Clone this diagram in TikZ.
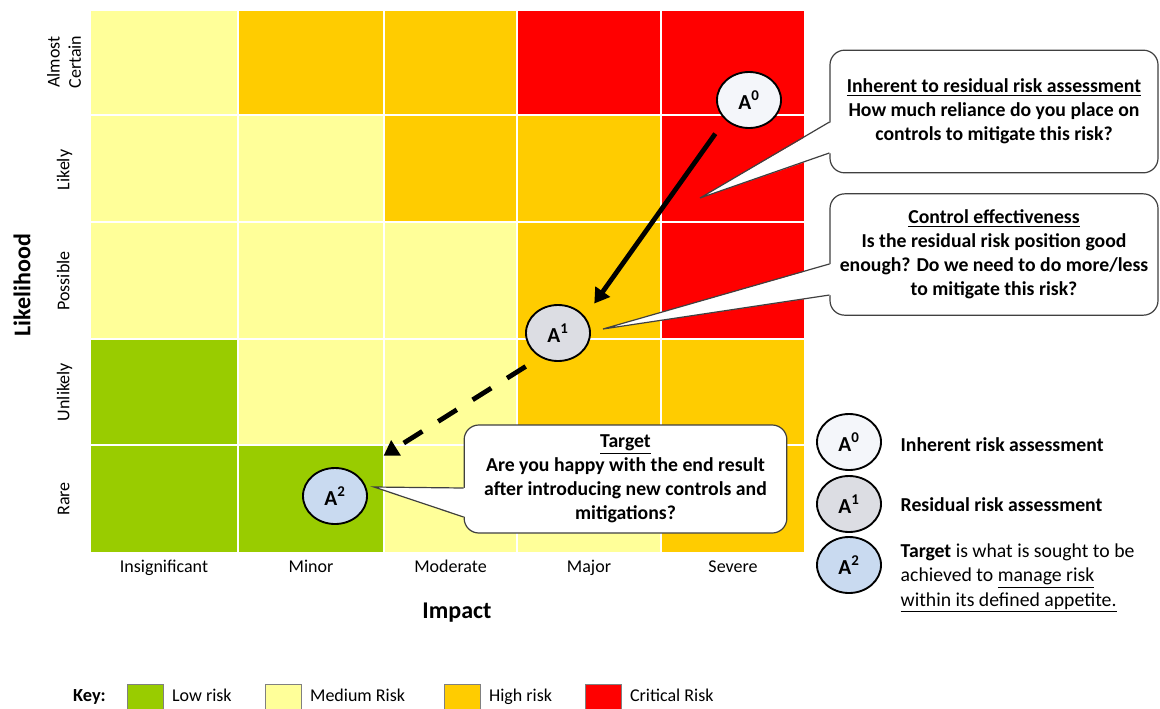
\documentclass[tikz,border=0pt]{standalone}
\usepackage{fontspec}
\setmainfont{Carlito}
\usetikzlibrary{shapes.geometric,arrows.meta,positioning}

\definecolor{lowrisk}{HTML}{99CC00}
\definecolor{medrisk}{HTML}{FFFF99}
\definecolor{highrisk}{HTML}{FFCC00}
\definecolor{critrisk}{HTML}{FF0000}
\definecolor{inherentfill}{HTML}{F4F6FA}
\definecolor{residualfill}{HTML}{DCDDE3}
\definecolor{targetfill}{HTML}{C9DAF0}

\begin{document}
\begin{tikzpicture}[
  x=0.75pt,y=-0.75pt,
  font=\fontsize{13.5}{16}\selectfont
]
  \tikzstyle{cell}=[draw=white,line width=0.8pt]
  \tikzstyle{rating}=[ellipse,draw=black,line width=1.4pt,minimum width=48pt,minimum height=42pt,inner sep=0pt,font=\fontsize{16}{18}\selectfont\bfseries]
  \tikzstyle{balloon}=[draw=black!75,line width=0.9pt,fill=white,rounded corners=11pt,align=center,inner sep=0pt,font=\fontsize{14.8}{18}\selectfont\bfseries]
  \tikzstyle{stalk}=[draw=black!75,line width=0.9pt]
  \tikzstyle{keybox}=[draw=black!50,line width=0.6pt,minimum width=27pt,minimum height=19.5pt,inner sep=0pt]
  \tikzstyle{label}=[text height=9.5pt,text depth=3pt]
  \tikzstyle{riskarrow}=[line width=3.6pt,-{Triangle[length=11pt,width=13pt]}]
  \tikzstyle{axistitle}=[font=\fontsize{18}{21}\selectfont\bfseries]
  \tikzstyle{explain}=[anchor=west,font=\fontsize{14.8}{18.4}\selectfont]

  \useasboundingbox (0,0) rectangle (1160,708);

  % Matrix cells, one row at a time from Almost Certain down to Rare
  \foreach \xa/\xb/\c in {90/238/medrisk,238/384/highrisk,384/517/highrisk,517/661/critrisk,661/805/critrisk}
    \filldraw[cell,fill=\c] (\xa,10) rectangle (\xb,115);
  \foreach \xa/\xb/\c in {90/238/medrisk,238/384/medrisk,384/517/highrisk,517/661/highrisk,661/805/critrisk}
    \filldraw[cell,fill=\c] (\xa,115) rectangle (\xb,222);
  \foreach \xa/\xb/\c in {90/238/medrisk,238/384/medrisk,384/517/medrisk,517/661/highrisk,661/805/critrisk}
    \filldraw[cell,fill=\c] (\xa,222) rectangle (\xb,339);
  \foreach \xa/\xb/\c in {90/238/lowrisk,238/384/medrisk,384/517/medrisk,517/661/highrisk,661/805/highrisk}
    \filldraw[cell,fill=\c] (\xa,339) rectangle (\xb,445);
  \foreach \xa/\xb/\c in {90/238/lowrisk,238/384/lowrisk,384/517/medrisk,517/661/medrisk,661/805/highrisk}
    \filldraw[cell,fill=\c] (\xa,445) rectangle (\xb,553);

  % Axis labels
  \foreach \x/\name in {164/Insignificant,311/Minor,450.5/Moderate,589/Major,733/Severe}
    \node[label] (imp-\name) at (\x,568) {\name};
  \node[rotate=90,align=center] (lik-certain) at (64,62) {Almost\\Certain};
  \node[label,rotate=90] (lik-likely)   at (65,170) {Likely};
  \node[label,rotate=90] (lik-possible) at (65,281) {Possible};
  \node[label,rotate=90] (lik-unlikely) at (65,392) {Unlikely};
  \node[label,rotate=90] (lik-rare)     at (65,499) {Rare};
  \node[axistitle] (impact) at (457,613) {Impact};
  \node[axistitle,rotate=90] (likelihood) at (22,285) {Likelihood};

  % Speech balloons
  \node[balloon,minimum width=246pt,minimum height=92pt] (q1) at (994,111.5)
    {\underline{Inherent to residual risk assessment}\\How much reliance do you place on\\controls to mitigate this risk?};
  \node[balloon,minimum width=246pt,minimum height=91pt] (q2) at (994,254.5)
    {\underline{Control effectiveness}\\Is the residual risk position good\\enough? Do we need to do more/less\\to mitigate this risk?};
  \node[balloon,minimum width=242pt,minimum height=81pt] (q3) at (625.5,479)
    {\underline{Target}\\Are you happy with the end result\\after introducing new controls and\\mitigations?};

  \coordinate (tip1) at (700,198);
  \coordinate (tip2) at (603,329);
  \coordinate (tip3) at (374,487);

  \fill[white] ([xshift=1.5pt,yshift=-7.9pt]q1.west) -- (tip1) -- ([xshift=1.5pt,yshift=-31.1pt]q1.west) -- cycle;
  \draw[stalk] ([yshift=-7.9pt]q1.west) -- (tip1) -- ([yshift=-31.1pt]q1.west);
  \fill[white] ([xshift=1.5pt,yshift=-7.1pt]q2.west) -- (tip2) -- ([xshift=1.5pt,yshift=-30.4pt]q2.west) -- cycle;
  \draw[stalk] ([yshift=-7.1pt]q2.west) -- (tip2) -- ([yshift=-30.4pt]q2.west);
  \fill[white] ([xshift=1.5pt,yshift=-6.75pt]q3.west) -- (tip3) -- ([xshift=1.5pt,yshift=-28.5pt]q3.west) -- cycle;
  \draw[stalk] ([yshift=-6.75pt]q3.west) -- (tip3) -- ([yshift=-28.5pt]q3.west);

  % Assessments on the matrix
  \node[rating,fill=inherentfill] (a0) at (749,100) {A\textsuperscript{0}};
  \node[rating,fill=residualfill] (a1) at (558,333) {A\textsuperscript{1}};
  \node[rating,fill=targetfill]   (a2) at (335,496) {A\textsuperscript{2}};

  \draw[riskarrow] ([xshift=-7.8pt,yshift=-9.9pt]a0.south west) -- ([xshift=9.75pt,yshift=6.75pt]a1.north east);
  \draw[riskarrow,dash pattern=on 16.5pt off 14pt] ([xshift=-6.75pt,yshift=-9.75pt]a1.south west) -- ([xshift=19pt,yshift=14.9pt]a2.north east);

  % Explanation of the three assessments
  \node[rating,fill=inherentfill] (k0) at (849,442) {A\textsuperscript{0}};
  \node[rating,fill=residualfill] (k1) at (849,504) {A\textsuperscript{1}};
  \node[rating,fill=targetfill]   (k2) at (849,565) {A\textsuperscript{2}};
  \node[explain,font=\fontsize{14.8}{18.4}\selectfont\bfseries] (k0-text) at (896,445) {Inherent risk assessment};
  \node[explain,font=\fontsize{14.8}{18.4}\selectfont\bfseries] (k1-text) at (896,505) {Residual risk assessment};
  \node[explain,align=left] (k2-text) at (896,578)
    {\textbf{Target} is what is sought to be\\achieved to \underline{manage risk}\\\underline{within its defined appetite.}};

  % Colour key
  \node[label,font=\fontsize{13.8}{16}\selectfont\bfseries] (key) at (89.5,697) {Key:};
  \node[keybox,fill=lowrisk]  (key-low)  at (145,697) {};
  \node[keybox,fill=medrisk]  (key-med)  at (283,697) {};
  \node[keybox,fill=highrisk] (key-high) at (462,697) {};
  \node[keybox,fill=critrisk] (key-crit) at (603,697) {};
  \node[label,right=3pt of key-low]  (key-low-text)  {Low risk};
  \node[label,right=3pt of key-med]  (key-med-text)  {Medium Risk};
  \node[label,right=3pt of key-high] (key-high-text) {High risk};
  \node[label,right=3pt of key-crit] (key-crit-text) {Critical Risk};
\end{tikzpicture}
\end{document}
